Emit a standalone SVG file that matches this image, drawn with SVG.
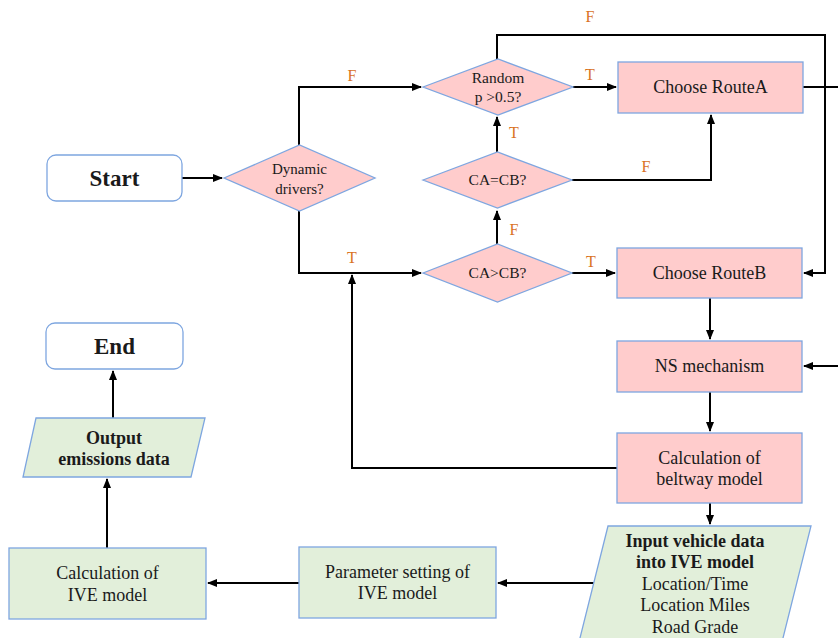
<svg xmlns="http://www.w3.org/2000/svg" width="838" height="638" viewBox="0 0 838 638">
<defs>
<marker id="ah" markerWidth="10" markerHeight="8" refX="9" refY="4" orient="auto" markerUnits="userSpaceOnUse">
<path d="M0,0 L10,4 L0,8 Z" fill="#000"/>
</marker>
<style>
.pink{fill:#FFCCCC;stroke:#7EA6E0;stroke-width:1.3}
.green{fill:#E2EFDA;stroke:#7EA6E0;stroke-width:1.3}
.term{fill:#FFFFFF;stroke:#7EA6E0;stroke-width:1.3}
.t{font-family:'Liberation Serif','Times New Roman',serif;fill:#1a1a1a;text-anchor:middle}
.lbl{font-family:'Liberation Serif','Times New Roman',serif;fill:#D9731F;font-size:16px;text-anchor:middle}
.c{fill:none;stroke:#000;stroke-width:2}
</style>
</defs>
<rect width="838" height="638" fill="#fff"/>
<g id="connectors">
<path class="c" d="M182,178 L222,178" marker-end="url(#ah)"/>
<path class="c" d="M299,145 L299,87 L421,87" marker-end="url(#ah)"/>
<path class="c" d="M299,211 L299,273 L421,273" marker-end="url(#ah)"/>
<path class="c" d="M573,87 L616,87" marker-end="url(#ah)"/>
<path class="c" d="M497,59 L497,35 L825,35 L825,273 L804,273" marker-end="url(#ah)"/>
<path class="c" d="M803,87 L838,87"/>
<path class="c" d="M497,152 L497,117" marker-end="url(#ah)"/>
<path class="c" d="M572,180 L711,180 L711,115" marker-end="url(#ah)"/>
<path class="c" d="M497,244 L497,211" marker-end="url(#ah)"/>
<path class="c" d="M572,273 L615,273" marker-end="url(#ah)"/>
<path class="c" d="M710,298 L710,339" marker-end="url(#ah)"/>
<path class="c" d="M838,366 L804,366" marker-end="url(#ah)"/>
<path class="c" d="M710,392 L710,431" marker-end="url(#ah)"/>
<path class="c" d="M617,468 L352,468 L352,275" marker-end="url(#ah)"/>
<path class="c" d="M710,503 L710,524" marker-end="url(#ah)"/>
<path class="c" d="M594,583 L498,583" marker-end="url(#ah)"/>
<path class="c" d="M299,583 L208,583" marker-end="url(#ah)"/>
<path class="c" d="M107,548 L107,479" marker-end="url(#ah)"/>
<path class="c" d="M113,418 L113,371" marker-end="url(#ah)"/>
<text class="lbl" x="590" y="22">F</text>
<text class="lbl" x="352" y="81">F</text>
<text class="lbl" x="590" y="80">T</text>
<text class="lbl" x="514" y="138">T</text>
<text class="lbl" x="646" y="172">F</text>
<text class="lbl" x="514" y="235">F</text>
<text class="lbl" x="352" y="263">T</text>
<text class="lbl" x="591" y="267">T</text>
</g>
<g id="start">
<rect class="term" x="47" y="155" width="135" height="46" rx="9"/>
<text class="t" x="114.5" y="186" font-size="23" font-weight="bold">Start</text>
</g>
<g id="end">
<rect class="term" x="46" y="323" width="137" height="46" rx="9"/>
<text class="t" x="114.5" y="354" font-size="23" font-weight="bold">End</text>
</g>
<g id="dynamic">
<polygon class="pink" points="224,178 299.5,145 375,178 299.5,211"/>
<text class="t" x="299.5" y="174" font-size="15">Dynamic</text>
<text class="t" x="299.5" y="194" font-size="15">drivers?</text>
</g>
<g id="random">
<polygon class="pink" points="423,87 498,59 573,87 498,115"/>
<text class="t" x="498" y="83" font-size="15.5">Random</text>
<text class="t" x="498" y="102" font-size="15.5">p &gt;0.5?</text>
</g>
<g id="caeqcb">
<polygon class="pink" points="423,180 497.5,152 572,180 497.5,208"/>
<text class="t" x="497.5" y="185" font-size="15.5">CA=CB?</text>
</g>
<g id="cagtcb">
<polygon class="pink" points="423,273 497.5,244 572,273 497.5,302"/>
<text class="t" x="497.5" y="278" font-size="15.5">CA&gt;CB?</text>
</g>
<g id="routeA">
<rect class="pink" x="618" y="62" width="185" height="51"/>
<text class="t" x="710.5" y="93" font-size="18">Choose RouteA</text>
</g>
<g id="routeB">
<rect class="pink" x="617" y="248" width="185" height="50"/>
<text class="t" x="709.5" y="279" font-size="18">Choose RouteB</text>
</g>
<g id="ns">
<rect class="pink" x="617" y="341" width="185" height="51"/>
<text class="t" x="709.5" y="372" font-size="18">NS mechanism</text>
</g>
<g id="beltway">
<rect class="pink" x="617" y="433" width="185" height="70"/>
<text class="t" x="709.5" y="464" font-size="18">Calculation of</text>
<text class="t" x="709.5" y="485" font-size="18">beltway model</text>
</g>
<g id="input">
<polygon class="green" points="608,526 811,526 782,642 579,642"/>
<text class="t" x="695" y="547" font-size="18" font-weight="bold">Input vehicle data</text>
<text class="t" x="695" y="568" font-size="18" font-weight="bold">into IVE model</text>
<text class="t" x="695" y="590" font-size="18">Location/Time</text>
<text class="t" x="695" y="611" font-size="18">Location Miles</text>
<text class="t" x="695" y="633" font-size="18">Road Grade</text>
</g>
<g id="param">
<rect class="green" x="299" y="547" width="197" height="71"/>
<text class="t" x="397.5" y="578" font-size="18">Parameter setting of</text>
<text class="t" x="397.5" y="599" font-size="18">IVE model</text>
</g>
<g id="calcive">
<rect class="green" x="9" y="548" width="197" height="71"/>
<text class="t" x="107.5" y="579" font-size="18">Calculation of</text>
<text class="t" x="107.5" y="601" font-size="18">IVE model</text>
</g>
<g id="output">
<polygon class="green" points="36,418 205,418 191,477 23,477"/>
<text class="t" x="114" y="444" font-size="18" font-weight="bold">Output</text>
<text class="t" x="114" y="465" font-size="18" font-weight="bold">emissions data</text>
</g>
</svg>
